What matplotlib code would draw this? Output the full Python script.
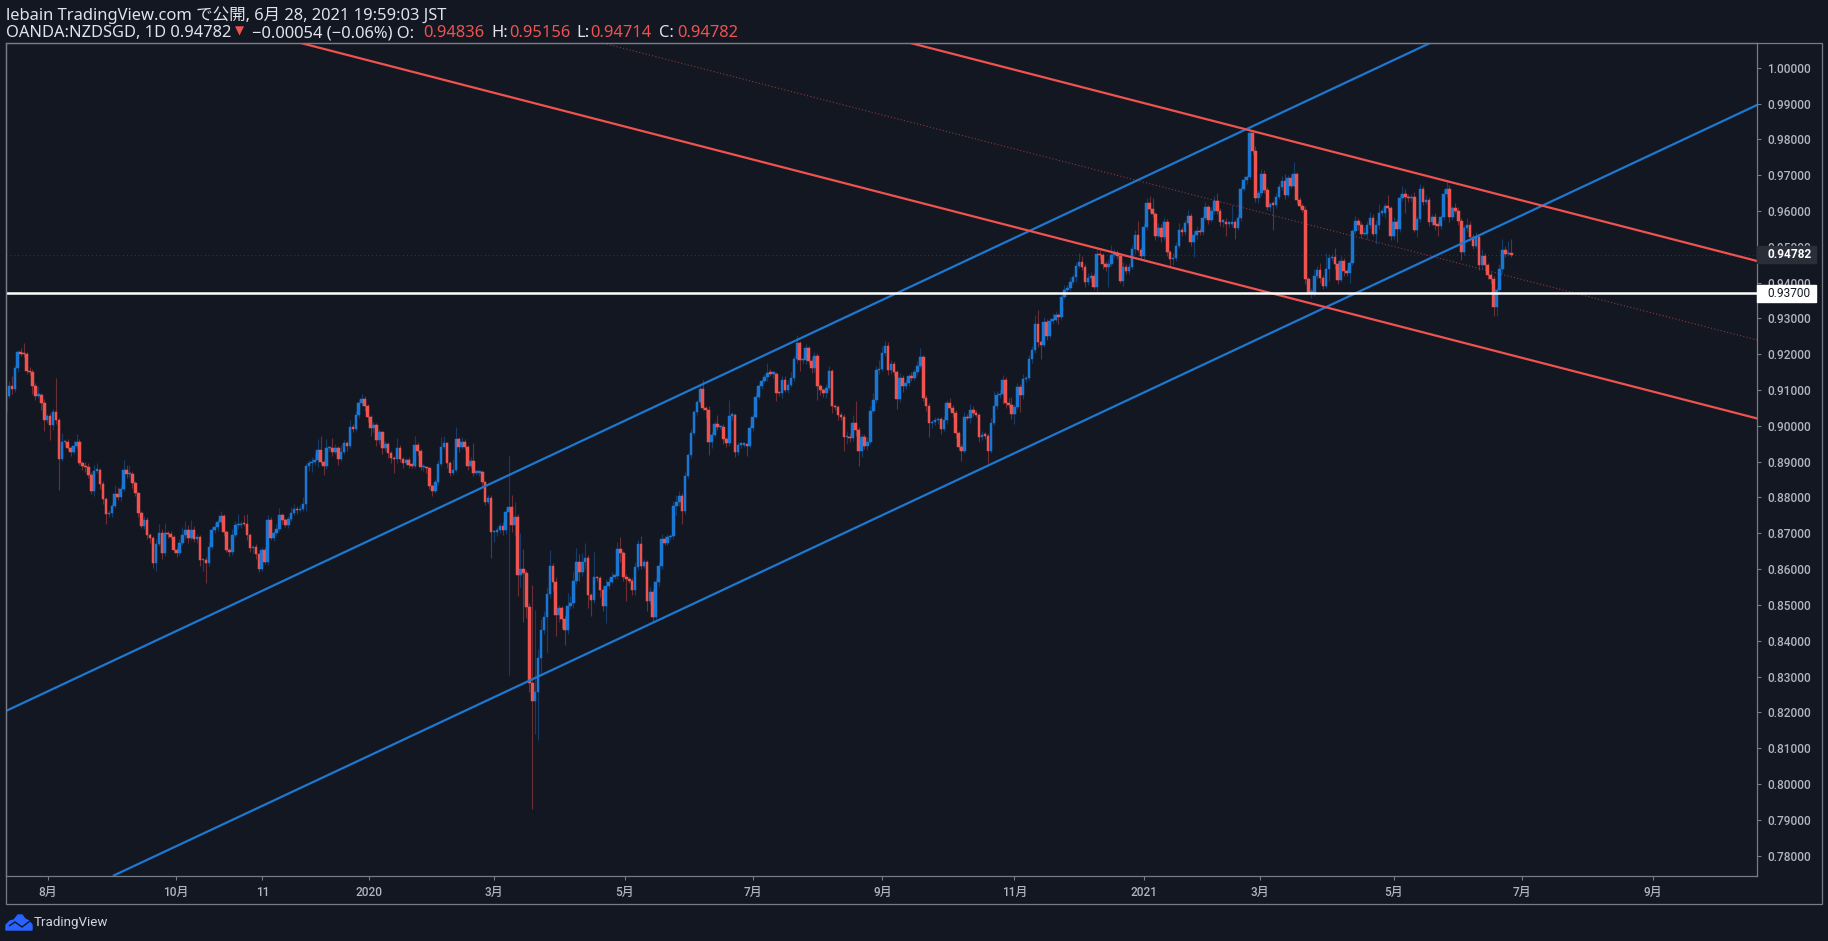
import matplotlib.pyplot as plt
from matplotlib.patches import Polygon, Rectangle
import numpy as np

BG = '#131722'
RED = '#ef5350'
BLUE = '#1976d2'
LINE_BLUE = '#1e78d0'
GREY = '#787b86'
TEXT = '#b2b5be'
FONTS = ['Roboto', 'Noto Sans CJK JP', 'DejaVu Sans']
HEAD_FONTS = ['Noto Sans', 'Noto Sans CJK JP', 'DejaVu Sans']

first_open = 0.9040
closes = [
    .9083, .9111, .9102, .9161, .9205, .9201, .9200, .9154, .9150, .9110,
    .9084, .9085, .9063, .9015, .9027, .9001, .9038, .9015, .8908, .8954,
    .8954, .8939, .8926, .8944, .8954, .8897, .8889, .8884, .8864, .8818,
    .8875, .8877, .8837, .8797, .8754, .8756, .8776, .8810, .8802, .8823,
    .8877, .8865, .8865, .8841, .8812, .8756, .8721, .8737, .8695, .8686,
    .8616, .8670, .8700, .8644, .8700, .8698, .8689, .8653, .8644, .8674,
    .8695, .8708, .8686, .8708, .8684, .8689, .8624, .8624, .8616, .8661,
    .8709, .8717, .8731, .8747, .8703, .8653, .8647, .8695, .8723, .8723,
    .8726, .8725, .8695, .8658, .8661, .8641, .8601, .8653, .8621, .8737,
    .8688, .8700, .8711, .8750, .8737, .8724, .8739, .8756, .8767, .8765,
    .8767, .8781, .8889, .8895, .8900, .8905, .8933, .8900, .8889, .8937,
    .8937, .8928, .8937, .8907, .8928, .8951, .8944, .8998, .8991, .9029,
    .9063, .9074, .9054, .9026, .8993, .9002, .8961, .8982, .8937, .8949,
    .8925, .8909, .8907, .8937, .8908, .8897, .8905, .8891, .8889, .8947,
    .8930, .8884, .8884, .8881, .8833, .8819, .8844, .8893, .8940, .8951,
    .8895, .8869, .8877, .8962, .8942, .8956, .8942, .8889, .8903, .8869,
    .8869, .8872, .8842, .8788, .8798, .8703, .8703, .8709, .8719, .8709,
    .8760, .8773, .8723, .8745, .8584, .8600, .8588, .8493, .8283, .8233,
    .8258, .8351, .8430, .8467, .8530, .8609, .8565, .8472, .8491, .8460,
    .8430, .8497, .8505, .8568, .8619, .8593, .8619, .8630, .8528, .8514,
    .8577, .8574, .8542, .8497, .8553, .8565, .8579, .8582, .8655, .8644,
    .8579, .8572, .8568, .8542, .8605, .8670, .8609, .8619, .8512, .8537,
    .8467, .8563, .8610, .8683, .8674, .8689, .8693, .8777, .8787, .8804,
    .8763, .8860, .8918, .8979, .9038, .9066, .9102, .9049, .9044, .8956,
    .8974, .9004, .8996, .8996, .8962, .8951, .9028, .9030, .8928, .8947,
    .8947, .8947, .8945, .8993, .9026, .9080, .9110, .9125, .9136, .9147,
    .9145, .9145, .9093, .9091, .9128, .9100, .9114, .9133, .9186, .9230,
    .9184, .9184, .9216, .9182, .9161, .9195, .9110, .9100, .9091, .9105,
    .9152, .9056, .9052, .9030, .9026, .8968, .8970, .8966, .9007, .8987,
    .8931, .8970, .8945, .8956, .9042, .9072, .9156, .9158, .9203, .9223,
    .9156, .9172, .9149, .9074, .9133, .9110, .9121, .9139, .9133, .9151,
    .9167, .9191, .9079, .9056, .9007, .9010, .9016, .9018, .8991, .9016,
    .9063, .9051, .9037, .8981, .8942, .8931, .9024, .9021, .9044, .9035,
    .9030, .8970, .8974, .8972, .8931, .9009, .9056, .9086, .9089, .9128,
    .9063, .9058, .9033, .9052, .9108, .9086, .9130, .9133, .9187, .9212,
    .9285, .9233, .9226, .9289, .9252, .9294, .9296, .9310, .9303, .9359,
    .9378, .9384, .9403, .9415, .9445, .9457, .9443, .9403, .9414, .9419,
    .9389, .9480, .9476, .9451, .9443, .9452, .9477, .9482, .9475, .9405,
    .9443, .9433, .9443, .9493, .9532, .9491, .9474, .9554, .9621, .9606,
    .9592, .9530, .9552, .9526, .9570, .9486, .9466, .9468, .9502, .9547,
    .9540, .9566, .9586, .9514, .9533, .9545, .9540, .9580, .9610, .9575,
    .9600, .9628, .9601, .9570, .9570, .9564, .9564, .9570, .9552, .9580,
    .9661, .9686, .9694, .9817, .9768, .9637, .9649, .9703, .9659, .9612,
    .9619, .9617, .9640, .9666, .9685, .9645, .9691, .9671, .9702, .9631,
    .9615, .9603, .9409, .9372, .9372, .9419, .9435, .9412, .9391, .9437,
    .9468, .9472, .9451, .9407, .9460, .9431, .9426, .9456, .9545, .9572,
    .9560, .9535, .9535, .9560, .9581, .9535, .9561, .9595, .9595, .9614,
    .9607, .9531, .9570, .9549, .9635, .9647, .9638, .9635, .9640, .9547,
    .9577, .9660, .9626, .9632, .9570, .9584, .9560, .9559, .9582, .9647,
    .9660, .9584, .9607, .9601, .9572, .9486, .9552, .9561, .9528, .9503,
    .9528, .9449, .9474, .9449, .9421, .9409, .9333, .9378, .9437, .9491,
    .9479, .94836, .94782,
]
# wick lengths above and below the body, in 0.0001
wick_up = [
    10, 15, 28, 10, 8, 12, 30, 6, 10, 8,
    10, 25, 6, 12, 5, 10, 10, 95, 8, 25,
    10, 8, 5, 15, 22, 8, 6, 10, 12, 8,
    15, 20, 6, 8, 5, 10, 8, 25, 18, 12,
    28, 14, 25, 8, 6, 4, 6, 10, 8, 5,
    5, 15, 25, 12, 28, 6, 8, 5, 8, 10,
    22, 25, 15, 30, 12, 10, 6, 4, 10, 14,
    8, 12, 8, 15, 6, 5, 6, 18, 10, 30,
    8, 25, 30, 5, 6, 8, 5, 10, 8, 14,
    8, 6, 15, 20, 8, 5, 10, 18, 14, 8,
    12, 20, 8, 10, 12, 20, 30, 40, 5, 25,
    8, 30, 12, 8, 18, 10, 6, 18, 6, 12,
    8, 14, 10, 6, 5, 8, 6, 10, 4, 8,
    5, 4, 6, 30, 10, 5, 6, 8, 5, 25,
    8, 6, 10, 5, 4, 5, 8, 12, 30, 20,
    5, 6, 30, 35, 8, 12, 6, 5, 10, 50,
    8, 5, 6, 4, 8, 10, 6, 8, 10, 12,
    10, 142, 33, 42, 8, 100, 55, 10, 12, 272,
    228, 25, 30, 15, 20, 45, 8, 12, 10, 6,
    12, 37, 20, 25, 40, 22, 25, 42, 8, 6,
    72, 5, 8, 10, 18, 10, 12, 8, 20, 35,
    6, 8, 6, 8, 15, 10, 22, 8, 6, 12,
    8, 12, 10, 15, 8, 10, 6, 12, 20, 15,
    8, 10, 6, 12, 5, 5, 8, 26, 6, 10,
    8, 10, 25, 6, 8, 6, 43, 10, 6, 8,
    8, 6, 6, 10, 6, 12, 8, 6, 10, 28,
    12, 8, 6, 5, 12, 10, 14, 16, 10, 23,
    6, 8, 12, 6, 10, 10, 8, 6, 5, 12,
    14, 8, 5, 6, 8, 6, 15, 10, 22, 63,
    10, 8, 6, 14, 12, 20, 10, 25, 20, 15,
    10, 12, 8, 6, 15, 8, 10, 6, 12, 8,
    14, 25, 8, 6, 8, 6, 10, 8, 6, 12,
    10, 16, 8, 6, 5, 8, 14, 10, 18, 12,
    8, 6, 12, 10, 8, 14, 42, 10, 12, 14,
    8, 14, 22, 10, 12, 8, 14, 6, 12, 10,
    25, 39, 6, 14, 10, 8, 18, 10, 6, 10,
    14, 8, 12, 10, 12, 25, 18, 8, 12, 10,
    8, 20, 12, 6, 10, 15, 28, 12, 10, 8,
    14, 8, 12, 12, 15, 40, 8, 12, 14, 20,
    30, 6, 14, 12, 10, 8, 6, 14, 10, 20,
    8, 10, 16, 8, 12, 14, 8, 10, 15, 6,
    10, 14, 21, 6, 8, 10, 8, 46, 6, 12,
    8, 12, 6, 14, 8, 12, 9, 14, 10, 8,
    6, 8, 10, 8, 12, 18, 10, 12, 35, 6,
    8, 8, 10, 6, 14, 18, 12, 20, 8, 45,
    12, 8, 25, 10, 14, 8, 10, 8, 6, 14,
    8, 10, 20, 12, 15, 10, 14, 25, 12, 8,
    30, 8, 14, 8, 12, 22, 15, 10, 8, 12,
    8, 14, 10, 12, 6, 8, 10, 12, 8, 15,
    23, 12, 8, 14, 10, 8, 10, 20, 12, 8,
    14, 6, 20, 10, 6, 8, 8, 10, 14, 30,
    12, 32, 37,
]
wick_dn = [
    4, 6, 12, 8, 10, 6, 8, 10, 8, 20,
    12, 6, 18, 30, 8, 40, 12, 10, 87, 6,
    8, 6, 10, 5, 8, 6, 12, 14, 10, 8,
    15, 6, 12, 14, 28, 8, 10, 6, 8, 12,
    6, 10, 8, 14, 8, 10, 6, 8, 12, 14,
    12, 20, 6, 15, 8, 10, 6, 8, 10, 6,
    8, 10, 14, 6, 8, 10, 15, 30, 55, 6,
    6, 8, 10, 5, 12, 6, 10, 8, 6, 10,
    8, 6, 15, 10, 14, 12, 10, 6, 8, 10,
    6, 10, 8, 6, 12, 6, 8, 5, 6, 10,
    6, 5, 18, 14, 25, 8, 20, 6, 25, 10,
    6, 12, 8, 15, 6, 8, 14, 6, 8, 5,
    6, 8, 12, 14, 20, 10, 18, 12, 15, 8,
    14, 12, 40, 10, 8, 14, 6, 10, 8, 6,
    14, 8, 10, 12, 8, 15, 6, 8, 5, 6,
    12, 10, 6, 6, 14, 8, 10, 12, 8, 10,
    6, 8, 12, 10, 6, 72, 28, 10, 8, 14,
    10, 456, 20, 30, 60, 35, 135, 30, 25, 302,
    94, 135, 40, 12, 100, 10, 25, 59, 20, 25,
    42, 12, 8, 15, 10, 25, 12, 18, 37, 45,
    10, 8, 20, 15, 48, 8, 6, 8, 10, 25,
    12, 60, 8, 15, 14, 8, 10, 6, 30, 10,
    15, 6, 10, 10, 8, 6, 8, 10, 25, 12,
    37, 10, 6, 8, 5, 8, 6, 6, 23, 37,
    18, 6, 8, 5, 12, 10, 8, 13, 14, 10,
    8, 6, 30, 6, 8, 5, 6, 8, 6, 10,
    6, 12, 25, 8, 14, 6, 8, 5, 8, 10,
    30, 12, 12, 8, 14, 10, 37, 15, 10, 12,
    6, 20, 8, 14, 10, 37, 18, 12, 8, 14,
    42, 18, 10, 12, 6, 5, 8, 10, 6, 8,
    14, 12, 10, 27, 8, 15, 6, 10, 8, 6,
    8, 5, 10, 14, 37, 12, 8, 10, 14, 6,
    10, 8, 12, 14, 10, 30, 8, 6, 12, 8,
    6, 14, 10, 8, 35, 8, 6, 10, 8, 28,
    12, 8, 14, 28, 6, 46, 10, 8, 6, 12,
    8, 14, 39, 6, 12, 8, 10, 6, 18, 8,
    6, 10, 8, 6, 12, 5, 8, 14, 10, 12,
    8, 13, 10, 14, 12, 55, 6, 8, 10, 6,
    14, 10, 8, 6, 12, 5, 8, 14, 6, 8,
    10, 12, 6, 14, 8, 12, 21, 18, 8, 6,
    10, 8, 6, 12, 42, 10, 8, 6, 5, 12,
    6, 8, 10, 12, 14, 35, 10, 8, 30, 6,
    8, 6, 10, 5, 8, 12, 14, 6, 8, 10,
    12, 70, 10, 6, 8, 12, 6, 8, 5, 10,
    8, 6, 12, 5, 14, 10, 8, 12, 10, 6,
    32, 8, 14, 10, 6, 12, 8, 26, 6, 8,
    14, 10, 6, 12, 8, 6, 28, 10, 8, 14,
    6, 12, 10, 37, 8, 6, 45, 10, 8, 6,
    20, 8, 10, 6, 12, 8, 14, 30, 10, 6,
    8, 14, 10, 6, 12, 23, 8, 10, 12, 8,
    6, 14, 8, 15, 10, 12, 25, 25, 8, 10,
    8, 4, 7,
]

# trend lines as (bar number, price) pairs
blue_lower = [[36.7, 595.6], [.77446, .98958]]
blue_upper = [[0.0, 484.4], [.82039, 1.0069]]
red_upper = [[307.7, 595.6], [1.0069, .94603]]
red_lower = [[100.3, 595.6], [1.0069, .90207]]
red_middle = [[204.4, 595.6], [1.0066, .92398]]
support = 0.937
last_price = 0.94782

price_ticks = [.78, .79, .80, .81, .82, .83, .84, .85, .86, .87, .88, .89,
               .90, .91, .92, .93, .94, .95, .96, .97, .98, .99, 1.00]
time_ticks = [14.3, 57.8, 87.2, 123.6, 166.1, 210.5, 254.1, 298.1, 343.0, 387.0, 426.5, 472.1, 515.8, 560.2]
time_labels = ['8月', '10月', '11', '2020', '3月', '5月', '7月', '9月', '11月', '2021', '3月', '5月', '7月', '9月']


def fx(px):
    return px / 1828


def fy(py):
    return 1 - py / 941


class Chart:
    def __init__(self):
        self.x_coors = np.arange(len(closes))
        self.opens = None
        self.highs = None
        self.lows = None
        self.colors = []

    def calculate(self):
        closing = np.array(closes)
        self.opens = np.array([first_open] + closes[:-1])
        tops = np.maximum(self.opens, closing)
        bottoms = np.minimum(self.opens, closing)
        self.highs = tops + np.array(wick_up) * 0.0001
        self.lows = bottoms - np.array(wick_dn) * 0.0001
        self.colors = [BLUE if c >= o else RED for o, c in zip(self.opens, closes)]
        self.bottoms = bottoms
        self.heights = np.maximum(tops - bottoms, 0.0004)  # flat bars still show

    def header(self):
        plt.figtext(fx(6), fy(15), 'lebain TradingView.com で公開, 6月 28, 2021 19:59:03 JST',
                    color='#e0e3eb', fontsize=11.9, family=HEAD_FONTS, va='center')
        pieces = [(6, 'OANDA:NZDSGD, 1D 0.94782', '#e0e3eb'), (252, '−0.00054 (−0.06%) O:', '#e0e3eb'),
                  (423, '0.94836', RED), (491, 'H:', '#e0e3eb'), (509, '0.95156', RED),
                  (576, 'L:', '#e0e3eb'), (590, '0.94714', RED), (659, 'C:', '#e0e3eb'), (677, '0.94782', RED)]
        for px, label, color in pieces:
            plt.figtext(fx(px), fy(33), label, color=color, fontsize=11.9, family=HEAD_FONTS, va='center')
        plt.figtext(fx(235), fy(31), '▼', color=RED, fontsize=8.5, family='DejaVu Sans', va='center')

    def tags(self):
        fig = plt.gcf()
        fig.add_artist(Rectangle((fx(1757), fy(263)), 59 / 1828, 17 / 941, color='#2a2e39', transform=fig.transFigure))
        fig.add_artist(Rectangle((fx(1757), fy(302)), 59 / 1828, 17 / 941, color='white', transform=fig.transFigure))
        plt.figtext(fx(1767), fy(254.5), '{:.5f}'.format(last_price), color='white', fontsize=8.6,
                    family=FONTS, weight='bold', va='center')
        plt.figtext(fx(1767), fy(293.5), '{:.5f}'.format(support), color='#131722', fontsize=8.6,
                    family=FONTS, va='center')

    def logo(self):
        fig = plt.gcf()
        cloud = [(6, 930), (6, 925), (10, 921), (14, 920), (18, 915), (22, 915), (25, 919), (29, 921),
                 (32, 925), (32, 930)]
        zigzag = [(9, 926), (15, 922), (22, 927), (30, 921)]
        fig.add_artist(Polygon([(fx(a), fy(b)) for a, b in cloud], color='#2962ff', transform=fig.transFigure))
        fig.add_artist(Polygon([(fx(a), fy(b)) for a, b in zigzag], closed=False, fill=False, color=BG,
                               linewidth=1.0, transform=fig.transFigure))
        plt.figtext(fx(34), fy(922.5), 'TradingView', color='#d1d4dc', fontsize=9.6, family=FONTS, va='center')

    def show(self):
        self.calculate()

        plt.figure(figsize=(18.28, 9.41), dpi=100, facecolor=BG)
        plt.axes([fx(6), fy(876), 1751 / 1828, 833 / 941], facecolor=BG)

        plt.vlines(self.x_coors, self.lows, self.highs, colors=self.colors, linewidth=0.8, alpha=0.4, zorder=1)
        plt.bar(self.x_coors, self.heights, 0.88, self.bottoms, color=self.colors, linewidth=0.35,
                edgecolor=self.colors, zorder=2)

        plt.plot(blue_lower[0], blue_lower[1], color=LINE_BLUE, linewidth=1.6, zorder=3)
        plt.plot(blue_upper[0], blue_upper[1], color=LINE_BLUE, linewidth=1.6, zorder=3)
        plt.plot(red_upper[0], red_upper[1], color=RED, linewidth=1.6, zorder=3)
        plt.plot(red_lower[0], red_lower[1], color=RED, linewidth=1.6, zorder=3)
        plt.plot(red_middle[0], red_middle[1], color=RED, linewidth=0.8, alpha=0.55, linestyle=(0, (1, 2)), zorder=3)
        plt.axhline(last_price, color=RED, linewidth=0.7, alpha=0.3, linestyle=(0, (1, 3)), zorder=1)
        plt.axhline(support, color='white', linewidth=1.8, zorder=4)

        plt.xlim(0, 595.6)
        plt.ylim(0.7743, 1.0069)

        ax = plt.gca()
        ax.yaxis.tick_right()
        for side in ax.spines:
            ax.spines[side].set_color(GREY)
            ax.spines[side].set_linewidth(0.9)

        plt.yticks(price_ticks, ['{:.5f}'.format(p) for p in price_ticks], color=TEXT, fontsize=8.6, family=FONTS,
                   weight='medium')
        plt.xticks(time_ticks, time_labels, color=TEXT, fontsize=8.6, family=FONTS, weight='medium')
        plt.tick_params(axis='y', length=3, width=0.8, color=GREY, pad=4.5)
        plt.tick_params(axis='x', length=3, width=0.8, color=GREY, pad=4.5)

        fig = plt.gcf()
        fig.add_artist(Rectangle((fx(6), fy(904)), 1815.5 / 1828, 861 / 941, fill=False, edgecolor=GREY,
                                 linewidth=0.9, transform=fig.transFigure))

        self.header()
        self.tags()
        self.logo()
        plt.savefig('out.png', dpi=100, facecolor=BG)


# MAIN
chart = Chart()
chart.show()

print('Bars: {}'.format(len(closes)))
